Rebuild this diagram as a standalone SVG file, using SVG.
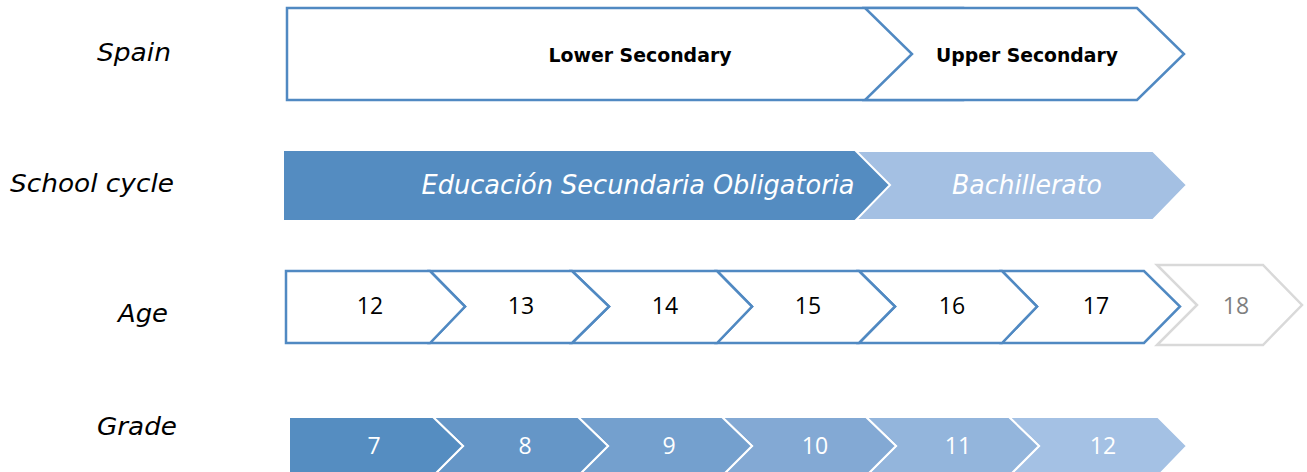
<svg xmlns="http://www.w3.org/2000/svg" width="1307" height="472" viewBox="0 0 1307 472">
<style>
.lbl{font-family:"DejaVu Sans","Verdana",sans-serif;font-style:italic;font-size:25px;fill:#000}
.hd{font-family:"DejaVu Sans",sans-serif;font-weight:bold;font-size:20px;fill:#000;text-anchor:middle}
.cyc{font-family:"DejaVu Sans",sans-serif;font-style:italic;font-size:26px;fill:#fff;text-anchor:middle}
.num{font-family:"Open Sans","Lato",sans-serif;font-size:23px;text-anchor:middle}
.ol{fill:#fff;stroke:#5089C2;stroke-width:2.5}
.gr{stroke:#fff;stroke-width:2}
</style>
<rect width="1307" height="472" fill="#fff"/>
<g id="labels">
<text class="lbl" x="97" y="61" textLength="74" lengthAdjust="spacingAndGlyphs">Spain</text>
<text class="lbl" x="10" y="192" textLength="164" lengthAdjust="spacingAndGlyphs">School cycle</text>
<text class="lbl" x="118" y="322" textLength="50" lengthAdjust="spacingAndGlyphs">Age</text>
<text class="lbl" x="97" y="435" textLength="80" lengthAdjust="spacingAndGlyphs">Grade</text>
</g>
<g id="spain-lower">
<rect class="ol" x="287" y="8" width="676" height="92"/>
<text class="hd" x="640" y="62" textLength="183" lengthAdjust="spacingAndGlyphs">Lower Secondary</text>
</g>
<g id="spain-upper">
<polygon class="ol" points="865,8 1137,8 1184,54 1137,100 865,100 912,54"/>
<text class="hd" x="1027" y="62" textLength="182" lengthAdjust="spacingAndGlyphs">Upper Secondary</text>
</g>
<g id="cycle-eso">
<polygon fill="#548CC1" points="284,151 856,151 890,185 856,220 284,220"/>
<text class="cyc" x="638" y="194" textLength="433" lengthAdjust="spacingAndGlyphs">Educación Secundaria Obligatoria</text>
</g>
<g id="cycle-bach">
<polygon fill="#A4C0E3" stroke="#fff" stroke-width="2" points="856,151 1153,151 1187,185 1153,220 856,220 890,185"/>
<text class="cyc" x="1027" y="194" textLength="150" lengthAdjust="spacingAndGlyphs">Bachillerato</text>
</g>
<g id="age-18">
<polygon fill="#fff" stroke="#D9D9D9" stroke-width="2.5" points="1157,265 1263,265 1302,305 1263,345 1157,345 1197,305"/>
<text class="num" x="1236" y="314" fill="#7F7F7F">18</text>
</g>
<g id="age-17">
<polygon class="ol" points="1002,271 1144,271 1180,306.5 1144,343 1002,343 1037,306.5"/>
<text class="num" x="1096" y="314" fill="#000">17</text>
</g>
<g id="age-16">
<polygon class="ol" points="859,271 1002,271 1037,306.5 1002,343 859,343 895,306.5"/>
<text class="num" x="952" y="314" fill="#000">16</text>
</g>
<g id="age-15">
<polygon class="ol" points="717,271 859,271 895,306.5 859,343 717,343 752,306.5"/>
<text class="num" x="808" y="314" fill="#000">15</text>
</g>
<g id="age-14">
<polygon class="ol" points="572,271 717,271 752,306.5 717,343 572,343 609,306.5"/>
<text class="num" x="665" y="314" fill="#000">14</text>
</g>
<g id="age-13">
<polygon class="ol" points="430,271 572,271 609,306.5 572,343 430,343 465,306.5"/>
<text class="num" x="521" y="314" fill="#000">13</text>
</g>
<g id="age-12">
<polygon class="ol" points="286,271 430,271 465,306.5 430,343 286,343"/>
<text class="num" x="370" y="314" fill="#000">12</text>
</g>
<g id="grade-12">
<polygon class="gr" fill="#A4C1E4" points="1009,417 1158,417 1187,446 1158,476 1009,476 1039,446"/>
<text class="num" x="1103" y="454" fill="#fff">12</text>
</g>
<g id="grade-11">
<polygon class="gr" fill="#93B5DC" points="866,417 1009,417 1039,446 1009,476 866,476 896,446"/>
<text class="num" x="958" y="454" fill="#fff">11</text>
</g>
<g id="grade-10">
<polygon class="gr" fill="#83A9D4" points="722,417 866,417 896,446 866,476 722,476 752,446"/>
<text class="num" x="815" y="454" fill="#fff">10</text>
</g>
<g id="grade-9">
<polygon class="gr" fill="#74A0CE" points="578,417 722,417 752,446 722,476 578,476 608,446"/>
<text class="num" x="669" y="454" fill="#fff">9</text>
</g>
<g id="grade-8">
<polygon class="gr" fill="#6596C7" points="433,417 578,417 608,446 578,476 433,476 463,446"/>
<text class="num" x="525" y="454" fill="#fff">8</text>
</g>
<g id="grade-7">
<polygon class="gr" fill="#558DC1" points="289,417 433,417 463,446 433,476 289,476"/>
<text class="num" x="374" y="454" fill="#fff">7</text>
</g>
<g id="connectors"></g>
</svg>
